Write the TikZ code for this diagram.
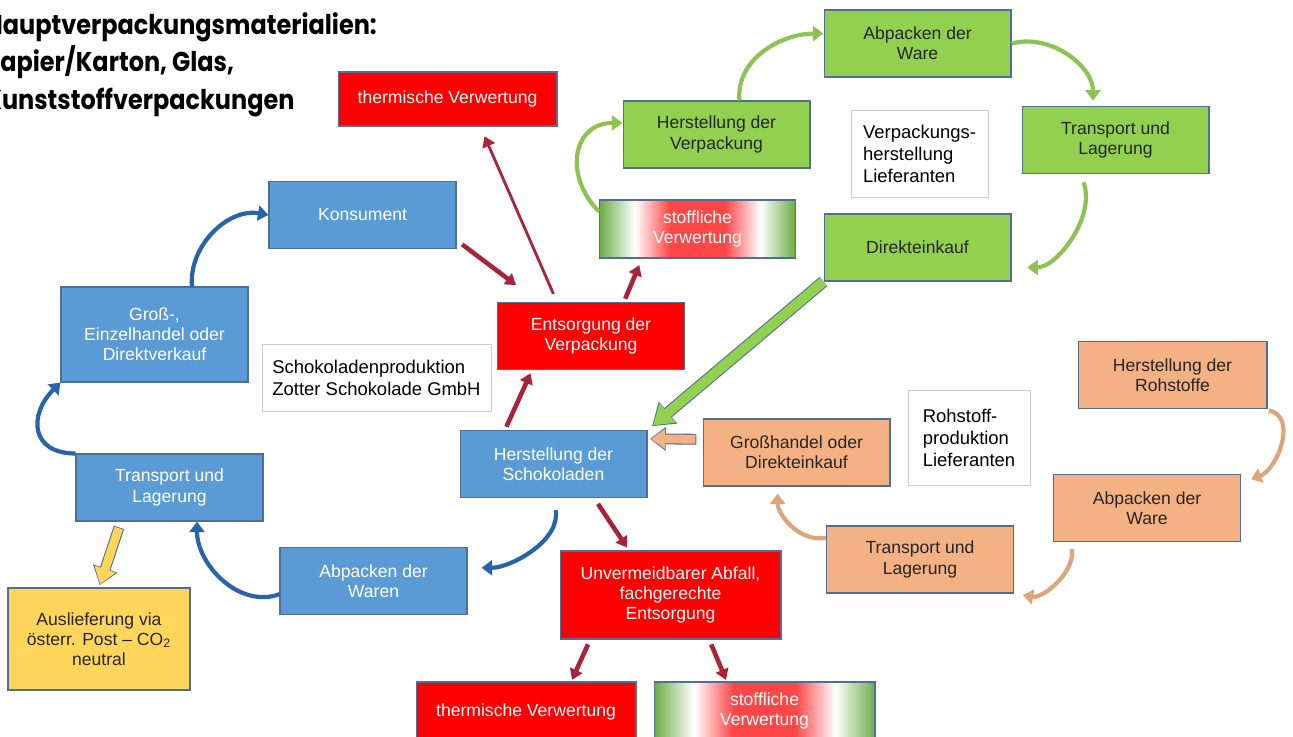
\documentclass[tikz,border=0pt]{standalone}
\usepackage{fontspec}
\setmainfont{Liberation Sans}
\newfontfamily\titlefont{Poppins}[FakeStretch=0.88]
\usetikzlibrary{arrows.meta}

\definecolor{boxblue}{RGB}{91,155,213}
\definecolor{boxgreen}{RGB}{146,208,80}
\definecolor{boxred}{RGB}{255,0,0}
\definecolor{boxorange}{RGB}{244,177,131}
\definecolor{boxyellow}{RGB}{255,214,90}
\definecolor{boxedge}{RGB}{80,110,150}
\definecolor{noteedge}{RGB}{205,205,205}
\definecolor{arrowred}{RGB}{168,36,58}
\definecolor{curveblue}{RGB}{40,100,170}
\definecolor{curvegreen}{RGB}{140,195,82}
\definecolor{curveorange}{RGB}{220,165,122}
\definecolor{recgreen}{RGB}{108,172,70}
\definecolor{recred}{RGB}{255,70,70}

\pgfdeclarehorizontalshading{recycle}{100bp}{color(0bp)=(recgreen); color(25bp)=(recgreen);
  color(34bp)=(white); color(43bp)=(recred); color(57bp)=(recred); color(66bp)=(white);
  color(75bp)=(recgreen); color(100bp)=(recgreen)}

\begin{document}
\begin{tikzpicture}[x=0.02cm,y=-0.02cm,
  box/.style={draw=boxedge, line width=0.6pt, align=center, inner sep=2pt,
    minimum width=3.74cm, minimum height=1.34cm, font=\fontsize{10}{11.5}\selectfont},
  bluebox/.style={box, fill=boxblue, text=white},
  greenbox/.style={box, fill=boxgreen, text=black!85},
  redbox/.style={box, fill=boxred, text=white},
  orangebox/.style={box, fill=boxorange, text=black!85},
  yellowbox/.style={box, fill=boxyellow, text=black!85},
  recbox/.style={box, shading=recycle, text=white},
  notebox/.style={draw=noteedge, line width=0.5pt, align=left, fill=white,
    font=\fontsize{10.5}{12.5}\selectfont},
  redarrow/.style={draw=arrowred, line width=2.6pt, -{Triangle[length=6pt,width=7.5pt]}},
  bluecurve/.style={draw=curveblue, line width=2.4pt, -{Triangle[length=6pt,width=8.5pt]}},
  greencurve/.style={bluecurve, draw=curvegreen},
  orangecurve/.style={bluecurve, draw=curveorange}]

\useasboundingbox (0,0) rectangle (1293,736);

% Titel
\node[anchor=north west, inner sep=0pt, align=left,
  font=\titlefont\bfseries\fontsize{15.5}{21.5}\selectfont] (titel) at (-15,12)
  {Hauptverpackungsmaterialien:\\Papier/Karton, Glas,\\Kunststoffverpackungen};

% Verpackungsherstellung
\node[greenbox] (abpG) at (917.5,43.5) {Abpacken der\\Ware};
\node[greenbox] (herVerp) at (716.5,134.5) {Herstellung der\\Verpackung};
\node[greenbox] (transG) at (1115.5,140) {Transport und\\Lagerung};
\node[greenbox] (direkt) at (917.5,247.5) {Direkteinkauf};
\node[notebox, minimum width=2.74cm, minimum height=1.74cm] (noteVerp) at (919.5,153.5)
  {Verpackungs-\\herstellung\\Lieferanten};
\node[recbox, minimum width=3.92cm, minimum height=1.16cm] (stoffTop) at (697.5,229) {stoffliche\\Verwertung};
\node[redbox, minimum width=4.38cm, minimum height=1.08cm] (thermTop) at (447.5,99) {thermische Verwertung};

% Schokoladenproduktion
\node[bluebox] (kons) at (362.5,215) {Konsument};
\node[bluebox, minimum height=1.9cm] (gross) at (154.5,334.5) {Groß-,\\Einzelhandel oder\\Direktverkauf};
\node[notebox, minimum width=4.58cm, minimum height=1.34cm] (noteSchoko) at (376.5,378)
  {Schokoladenproduktion\\Zotter Schokolade GmbH};
\node[redbox] (ent) at (591,336) {Entsorgung der\\Verpackung};
\node[bluebox] (hs) at (553.5,464) {Herstellung der\\Schokoladen};
\node[bluebox] (trans) at (169.5,487.5) {Transport und\\Lagerung};
\node[bluebox] (abw) at (373.5,581) {Abpacken der\\Waren};
\node[yellowbox, minimum width=3.64cm, minimum height=2.04cm] (ausl) at (99,639)
  {Auslieferung via\\österr. Post – CO\textsubscript{2}\\neutral};
\node[redbox, minimum width=4.42cm, minimum height=1.76cm] (unv) at (670.5,595)
  {Unvermeidbarer Abfall,\\fachgerechte\\Entsorgung};
\node[redbox, minimum width=4.4cm, minimum height=1.2cm] (thermBot) at (526,712) {thermische Verwertung};
\node[recbox, minimum width=4.42cm, minimum height=1.16cm] (stoffBot) at (764.5,711) {stoffliche\\Verwertung};

% Rohstoffproduktion
\node[orangebox] (gh) at (796.5,452.5) {Großhandel oder\\Direkteinkauf};
\node[notebox, minimum width=2.44cm, minimum height=1.9cm] (noteRoh) at (969,438)
  {Rohstoff-\\produktion\\Lieferanten};
\node[orangebox, minimum width=3.78cm] (hr) at (1172.5,375) {Herstellung der\\Rohstoffe};
\node[orangebox] (abpO) at (1147,508) {Abpacken der\\Ware};
\node[orangebox] (transO) at (920,559.5) {Transport und\\Lagerung};

% Kreisläufe
\draw[bluecurve] (gross.52) to[out=95,in=170] (kons.west);
\draw[bluecurve, looseness=1.6] (trans.north west) to[out=180,in=225] (gross.south west);
\draw[bluecurve] (abw.188) to[out=200,in=-90] ([xshift=0.55cm]trans.south);
\draw[bluecurve, shorten <=7pt, shorten >=8pt] (hs.south) to[out=-80,in=0] (abw.8);

\draw[greencurve, looseness=1.4] (stoffTop.170) to[out=135,in=180] (herVerp.173);
\draw[greencurve] (herVerp.56) to[out=95,in=180] (abpG.174);
\draw[greencurve, shorten >=3pt] (abpG.east) to[out=15,in=90] ([xshift=-0.45cm]transG.north);
\draw[greencurve, shorten <=5pt, shorten >=9pt] ([xshift=-0.7cm]transG.south) to[out=-70,in=0] (direkt.-12);

\draw[orangecurve, looseness=1.3, shorten <=5pt, shorten >=6pt] ([xshift=-0.15cm]hr.south east) to[out=-10,in=20] (abpO.15);
\draw[orangecurve, shorten <=4pt, shorten >=5pt] (abpO.-156) to[out=-80,in=-10] (transO.south east);
\draw[orangecurve, shorten >=4pt] (transO.167) to[out=190,in=-90] (gh.-119);

% Entsorgung
\draw[redarrow, line width=1.6pt, shorten <=5pt, shorten >=6pt] (ent.135) -- (thermTop.-40);
\draw[redarrow, shorten <=2pt, shorten >=4pt] (ent.46) -- (stoffTop.-152);
\draw[redarrow, shorten <=4pt, shorten >=16pt] (kons.-15) -- (ent.147);
\draw[redarrow, shorten <=2pt, shorten >=2pt] (hs.145) -- (ent.-150);
\draw[redarrow, shorten <=4pt, shorten >=2pt] (hs.-40) -- (unv.133);
\draw[redarrow, shorten <=3pt, shorten >=1pt] (unv.-151) -- (thermBot.34);
\draw[redarrow, shorten <=3pt, shorten >=1pt] (unv.-49) -- (stoffBot.142);

% Blockpfeile
\draw[draw=boxgreen, line width=5.6pt, -{Triangle[length=11pt,width=13.5pt]}, shorten >=4pt,
  preaction={draw=boxedge, line width=6.8pt, shorten >=3.3pt, -{Triangle[length=12pt,width=15.5pt]}}]
  (direkt.south west) -- (hs.north east);
\draw[draw=boxorange, line width=5pt, -{Triangle[length=8pt,width=11pt]}, shorten <=4pt, shorten >=2pt,
  preaction={draw=boxedge, line width=6.2pt, shorten <=3.5pt, shorten >=1.4pt, -{Triangle[length=9pt,width=13pt]}}]
  (gh.172) -- (hs.15);
\draw[draw=boxyellow, line width=5pt, -{Triangle[length=9pt,width=12pt]}, shorten <=4pt, shorten >=2pt,
  preaction={draw=boxedge, line width=6.2pt, shorten <=3.5pt, shorten >=1.4pt, -{Triangle[length=10pt,width=14pt]}}]
  (trans.-145) -- (ausl.north);

\end{tikzpicture}
\end{document}
